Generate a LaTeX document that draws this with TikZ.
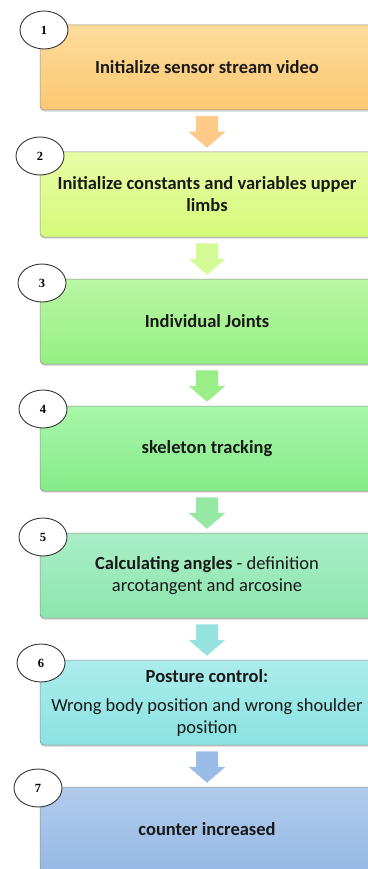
\documentclass[tikz,border=0pt]{standalone}
\usepackage{fontspec}
\setmainfont{Carlito}
\newfontfamily\numfont{Liberation Serif}
\usetikzlibrary{calc,shapes.geometric,shadows}

% step box fills (top / bottom of each gradient) and arrow fills
\definecolor{c1t}{RGB}{253,220,155}\definecolor{c1b}{RGB}{252,200,115}
\definecolor{c2t}{RGB}{232,251,165}\definecolor{c2b}{RGB}{214,250,122}
\definecolor{c3t}{RGB}{185,246,165}\definecolor{c3b}{RGB}{150,240,130}
\definecolor{c4t}{RGB}{170,246,170}\definecolor{c4b}{RGB}{132,236,137}
\definecolor{c5t}{RGB}{170,238,200}\definecolor{c5b}{RGB}{140,230,172}
\definecolor{c6t}{RGB}{172,236,236}\definecolor{c6b}{RGB}{138,226,226}
\definecolor{c7t}{RGB}{178,203,236}\definecolor{c7b}{RGB}{150,185,230}
\definecolor{a1}{RGB}{253,203,135}
\definecolor{a2}{RGB}{212,250,150}
\definecolor{a3}{RGB}{155,238,135}
\definecolor{a4}{RGB}{150,232,165}
\definecolor{a5}{RGB}{150,226,222}
\definecolor{a6}{RGB}{155,188,230}
\definecolor{edge}{RGB}{140,140,140}

\tikzset{
  stepbox/.style={rectangle, rounded corners=4pt, draw=edge, line width=0.5pt,
    minimum width=334pt, minimum height=85pt, align=center, inner sep=0pt,
    font=\fontsize{18.5}{22}\selectfont, text=black!90,
    drop shadow={shadow xshift=0.4pt, shadow yshift=-1.6pt, opacity=0.35}},
  numbadge/.style={ellipse, draw=black!80, line width=0.9pt, fill=white,
    minimum width=48pt, minimum height=38pt, inner sep=0pt,
    font=\numfont\bfseries\fontsize{12.5}{13}\selectfont},
}

% block arrow from the bottom of one box to the top of the next
\newcommand{\blockarrow}[3]{%
  \fill[#3]
    ($(#1.south)+(-11,-6)$) -- ($(#1.south)+(11,-6)$) --
    ($(#2.north)+(11,20)$) -- ($(#2.north)+(18.5,20)$) --
    ($(#2.north)+(0,4)$) --
    ($(#2.north)+(-18.5,20)$) -- ($(#2.north)+(-11,20)$) -- cycle;}

\begin{document}
\begin{tikzpicture}[x=1pt,y=1pt]
\useasboundingbox (0,0) rectangle (367,-869);

\node[stepbox, top color=c1t, bottom color=c1b] (b1) at (207,-67.5)
  {\bfseries Initialize sensor stream video};
\node[stepbox, top color=c2t, bottom color=c2b] (b2) at (207,-194.5)
  {\bfseries Initialize constants and variables upper\\\bfseries limbs};
\node[stepbox, top color=c3t, bottom color=c3b] (b3) at (207,-321.5)
  {\bfseries Individual Joints};
\node[stepbox, top color=c4t, bottom color=c4b] (b4) at (207,-448.5)
  {\bfseries skeleton tracking};
\node[stepbox, top color=c5t, bottom color=c5b] (b5) at (207,-575.5)
  {\textbf{Calculating angles} - definition\\arcotangent and arcosine};
\node[stepbox, top color=c6t, bottom color=c6b] (b6) at (207,-702.5)
  {\textbf{Posture control:}\\[7pt]Wrong body position and wrong shoulder\\position};
\node[stepbox, top color=c7t, bottom color=c7b] (b7) at (207,-829.5)
  {\bfseries counter increased};

\blockarrow{b1}{b2}{a1}
\blockarrow{b2}{b3}{a2}
\blockarrow{b3}{b4}{a3}
\blockarrow{b4}{b5}{a4}
\blockarrow{b5}{b6}{a5}
\blockarrow{b6}{b7}{a6}

\node[numbadge] (n1) at (44,-30) {1};
\node[numbadge] (n2) at (40,-156) {2};
\node[numbadge] (n3) at (42,-283) {3};
\node[numbadge] (n4) at (43,-409) {4};
\node[numbadge] (n5) at (43,-537) {5};
\node[numbadge] (n6) at (41,-663) {6};
\node[numbadge] (n7) at (38,-788) {7};
\end{tikzpicture}
\end{document}
